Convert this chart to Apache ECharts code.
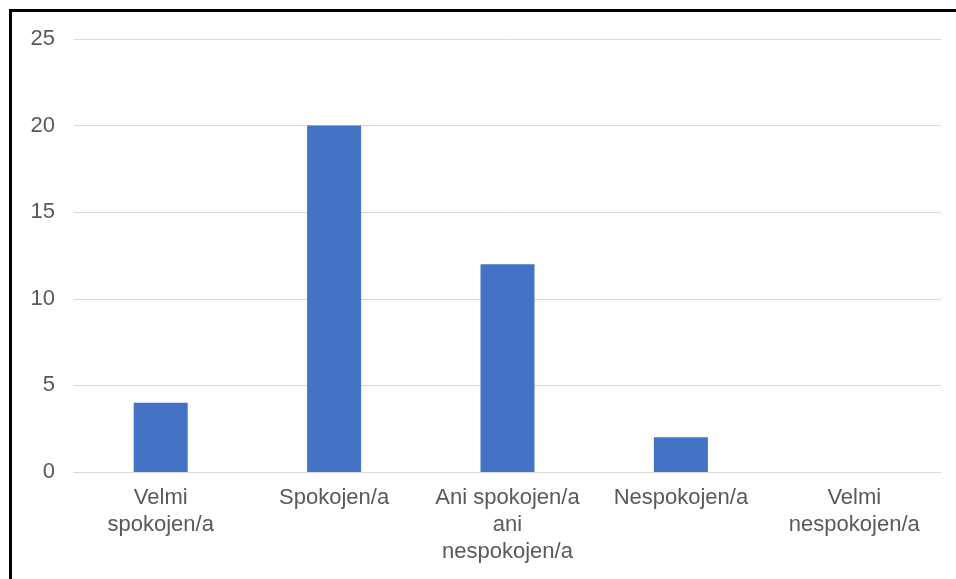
<!DOCTYPE html>
<html>
<head>
<meta charset="utf-8">
<script src="https://cdn.jsdelivr.net/npm/echarts@6/dist/echarts.min.js"></script>
<style>
  html, body { margin: 0; padding: 0; background: #ffffff; }
  #chart { width: 956px; height: 579px; }
</style>
</head>
<body>
<div id="chart"></div>
<script>
// Satisfaction survey answers (Czech), counts per answer
const categories = [
  'Velmi\nspokojen/a',
  'Spokojen/a',
  'Ani spokojen/a\nani\nnespokojen/a',
  'Nespokojen/a',
  'Velmi\nnespokojen/a'
];
const counts = [4, 20, 12, 2, 0];
const yTicks = { min: 0, max: 25, step: 5 };

const textColor = '#595959';
const gridColor = '#d9d9d9';
const barColor = '#4472c4';
const fontFamily = '"Liberation Sans", Arial, sans-serif';

const chart = echarts.init(document.getElementById('chart'), null, { renderer: 'canvas' });

chart.setOption({
  backgroundColor: '#ffffff',
  animation: false,
  grid: { left: 74, right: 15, top: 39, bottom: 107, containLabel: false },
  // frame lines along the top and left edges
  graphic: [
    { type: 'rect', left: 9, top: 9, shape: { width: 947, height: 3 }, style: { fill: '#000000' } },
    { type: 'rect', left: 9, top: 9, shape: { width: 3, height: 570 }, style: { fill: '#000000' } }
  ],
  xAxis: {
    type: 'category',
    data: categories,
    axisLine: { show: true, lineStyle: { color: gridColor, width: 1 } },
    axisTick: { show: false },
    axisLabel: {
      color: textColor,
      fontFamily: fontFamily,
      fontSize: 22,
      lineHeight: 27,
      margin: 12,
      interval: 0
    }
  },
  yAxis: {
    type: 'value',
    min: yTicks.min,
    max: yTicks.max,
    interval: yTicks.step,
    axisLine: { show: false },
    axisTick: { show: false },
    splitLine: { show: true, lineStyle: { color: gridColor, width: 1 } },
    axisLabel: {
      color: textColor,
      fontFamily: fontFamily,
      fontSize: 22,
      margin: 19
    }
  },
  series: [{
    type: 'bar',
    data: counts,
    barWidth: 54,
    itemStyle: { color: barColor },
    silent: true
  }]
});
</script>
</body>
</html>
